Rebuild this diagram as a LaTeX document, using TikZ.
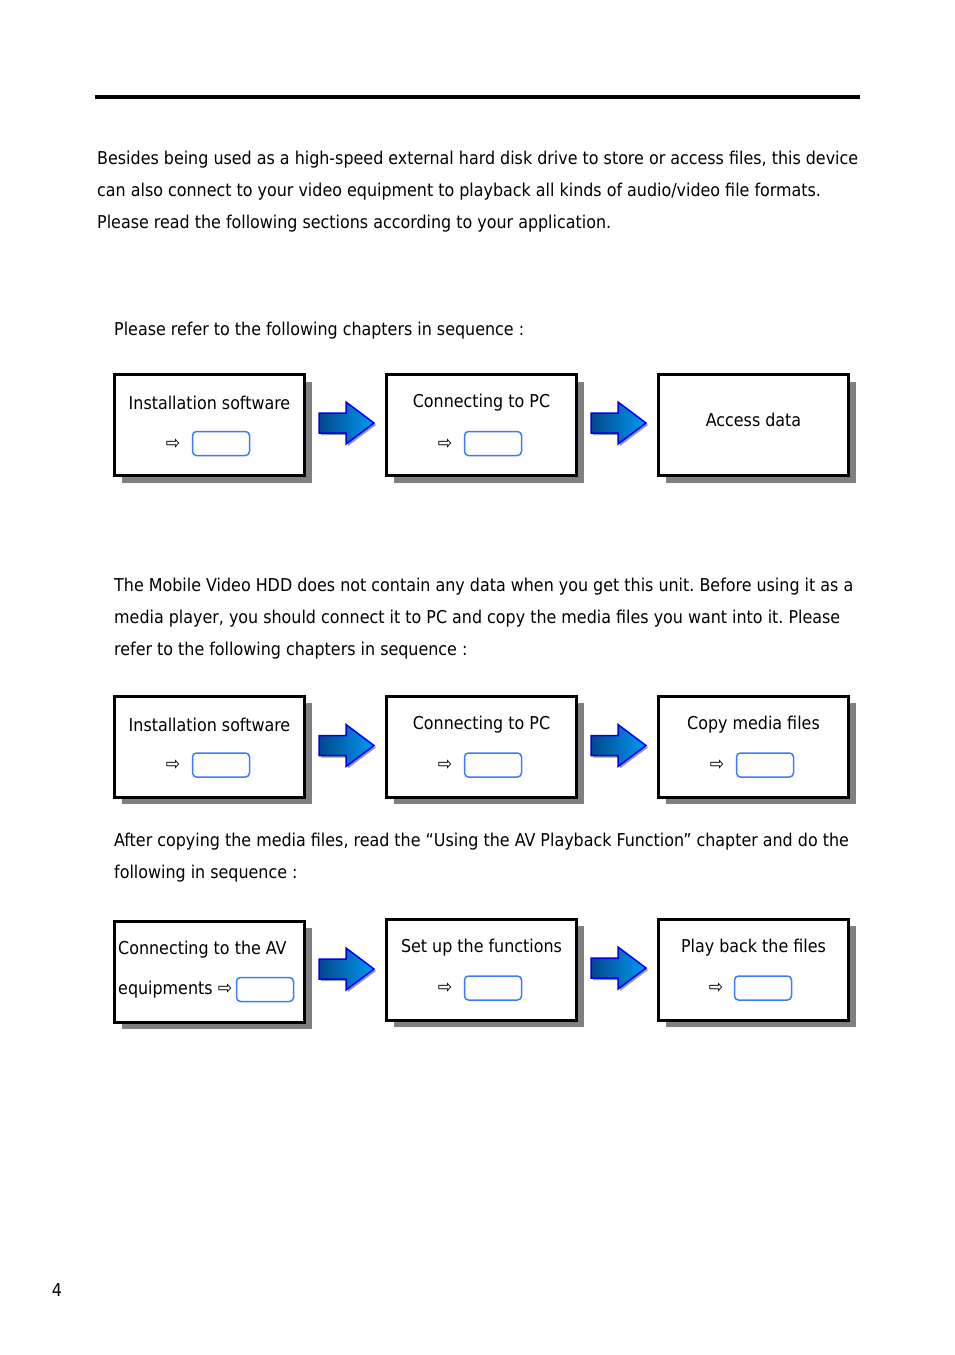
\documentclass[tikz,border=0pt]{standalone}
\usepackage{fontspec}
\setmainfont{DejaVu Sans Condensed}
\usetikzlibrary{shadows,calc}
\definecolor{rectblue}{HTML}{3A7BFF}
\definecolor{arrowedge}{HTML}{0000EE}
\definecolor{arrowdark}{HTML}{00498A}
\definecolor{arrowlight}{HTML}{0099F5}
\newcommand{\barrow}[1]{%
  \begin{scope}[shift={(#1)}]
    \fill[gray!80] (-24.5,-8) -- (2.5,-8) -- (2.5,-19) -- (30.5,2) -- (2.5,23) -- (2.5,12) -- (-24.5,12) -- cycle;
    \shade[left color=arrowdark, right color=arrowlight, draw=arrowedge, line width=1.5pt, line join=miter]
      (-26.5,-10) -- (0.5,-10) -- (0.5,-21) -- (28.5,0) -- (0.5,21) -- (0.5,10) -- (-26.5,10) -- cycle;
  \end{scope}}
\begin{document}
\frenchspacing
\begin{tikzpicture}[x=1pt,y=-1pt,
  txt/.style={anchor=west, inner sep=0, font=\fontsize{17.7}{20}\selectfont},
  ctxt/.style={inner sep=0, font=\fontsize{17.7}{20}\selectfont},
  box/.style={draw=black, line width=3pt, fill=white, minimum width=190pt, minimum height=101pt, inner sep=0,
    drop shadow={shadow xshift=7pt, shadow yshift=-7pt, fill=gray, opacity=1}},
  rbox/.style={draw=rectblue, line width=1.5pt, rounded corners=4pt, minimum width=57pt, minimum height=24pt, inner sep=0},
  pt/.style={inner sep=0, font=\fontsize{19}{19}\selectfont}]
\useasboundingbox (0,0) rectangle (954,1355);

\draw[line width=4pt] (95,97) -- (860,97);

\node[txt] (p1) at (97,159.5) {Besides being used as a high-speed external hard disk drive to store or access files, this device};
\node[txt] (p2) at (97,191.5) {can also connect to your video equipment to playback all kinds of audio/video file formats.};
\node[txt] (p3) at (97,223.5) {Please read the following sections according to your application.};

\node[txt] (q1) at (114,330.5) {Please refer to the following chapters in sequence :};

% Row 1
\node[box] (b11) at (209.5,425) {};
\node[box] (b12) at (481.5,425) {};
\node[box] (b13) at (753.5,425) {};
\node[ctxt] at ($(b11.north)+(0,30)$) {Installation software};
\node[pt] at ($(b11.north west)+(60,71)$) {⇨};
\node[rbox] (r11) at ($(b11.north west)+(108,70.5)$) {};
\node[ctxt] at ($(b12.north)+(0,30)$) {Connecting to PC};
\node[pt] at ($(b12.north west)+(60,71)$) {⇨};
\node[rbox] (r12) at ($(b12.north west)+(108,70.5)$) {};
\node[ctxt] at ($(b13.north)+(0,47)$) {Access data};
\coordinate (a11) at ($(b11.east)!0.5!(b12.west)+(0,-2)$);
\coordinate (a12) at ($(b12.east)!0.5!(b13.west)+(0,-2)$);
\barrow{a11}
\barrow{a12}

% Paragraph 2
\node[txt] (s1) at (114,586.5) {The Mobile Video HDD does not contain any data when you get this unit. Before using it as a};
\node[txt] (s2) at (114,618.5) {media player, you should connect it to PC and copy the media files you want into it. Please};
\node[txt] (s3) at (114,650.5) {refer to the following chapters in sequence :};

% Row 2
\node[box] (b21) at (209.5,746.5) {};
\node[box] (b22) at (481.5,746.5) {};
\node[box] (b23) at (753.5,746.5) {};
\node[ctxt] at ($(b21.north)+(0,30)$) {Installation software};
\node[pt] at ($(b21.north west)+(60,71)$) {⇨};
\node[rbox] (r21) at ($(b21.north west)+(108,70.5)$) {};
\node[ctxt] at ($(b22.north)+(0,30)$) {Connecting to PC};
\node[pt] at ($(b22.north west)+(60,71)$) {⇨};
\node[rbox] (r22) at ($(b22.north west)+(108,70.5)$) {};
\node[ctxt] at ($(b23.north)+(0,30)$) {Copy media files};
\node[pt] at ($(b23.north west)+(60,71)$) {⇨};
\node[rbox] (r23) at ($(b23.north west)+(108,70.5)$) {};
\coordinate (a21) at ($(b21.east)!0.5!(b22.west)+(0,-1)$);
\coordinate (a22) at ($(b22.east)!0.5!(b23.west)+(0,-1)$);
\barrow{a21}
\barrow{a22}

% Paragraph 3
\node[txt] (t1) at (114,841.5) {After copying the media files, read the “Using the AV Playback Function” chapter and do the};
\node[txt] (t2) at (114,873.5) {following in sequence :};

% Row 3
\node[box] (b31) at (209.5,971.5) {};
\node[box] (b32) at (481.5,969.5) {};
\node[box] (b33) at (753.5,969.5) {};
\node[txt] at ($(b31.north west)+(5,30)$) {Connecting to the AV};
\node[txt] (eq) at ($(b31.north west)+(5,70)$) {equipments};
\node[pt] at ($(b31.north west)+(112,70)$) {⇨};
\node[rbox] (r31) at ($(b31.north west)+(152,70)$) {};
\node[ctxt] at ($(b32.north)+(0,30)$) {Set up the functions};
\node[pt] at ($(b32.north west)+(60,71)$) {⇨};
\node[rbox] (r32) at ($(b32.north west)+(108,70.5)$) {};
\node[ctxt] at ($(b33.north)+(0,30)$) {Play back the files};
\node[pt] at ($(b33.north west)+(59,71)$) {⇨};
\node[rbox] (r33) at ($(b33.north west)+(106,70.5)$) {};
\coordinate (a31) at ($(b31.east)!0.5!(b32.west)+(0,-1.5)$);
\coordinate (a32) at ($(b32.east)!0.5!(b33.west)+(0,-1.5)$);
\barrow{a31}
\barrow{a32}

\node[ctxt] (pg) at (57,1290) {4};
\end{tikzpicture}
\end{document}
